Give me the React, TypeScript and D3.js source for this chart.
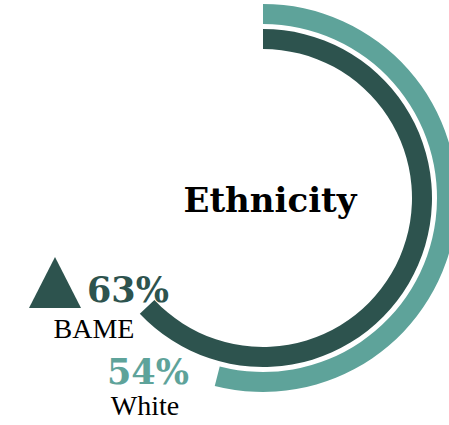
import React from "react";
import * as d3 from "d3";

const groups = ["BAME", "White"];
const values = [0.63, 0.54];
const valueLabels = ["63%", "54%"];
const title = "Ethnicity";

const W = 449;
const H = 425;
const cx = 263;
const cy = 198;
const DARK = "#2d534e";
const TEAL = "#5ea39a";

export default function App() {
  const angle = d3.scaleLinear().domain([0, 1]).range([0, 2 * Math.PI]);
  const rings = [
    { inner: 149, outer: 169, color: DARK },
    { inner: 174, outer: 194, color: TEAL },
  ];
  const arc = d3.arc<any>();
  return (
    <svg
      width={W}
      height={H}
      style={{ position: "absolute", left: 0, top: 0, display: "block" }}
    >
      <rect width={W} height={H} fill="#fff" />
      <g transform={`translate(${cx},${cy})`}>
        {values.map((v, i) => (
          <path
            key={groups[i]}
            d={
              arc({
                innerRadius: rings[i].inner,
                outerRadius: rings[i].outer,
                startAngle: 0,
                endAngle: angle(v),
              }) || ""
            }
            fill={rings[i].color}
          />
        ))}
      </g>
      <text
        x={270}
        y={212}
        textAnchor="middle"
        fontFamily="'DejaVu Serif', serif"
        fontWeight="bold"
        fontSize={34}
        fill="#000"
      >
        {title}
      </text>
      <path d="M29,308 L81,308 L55,257 Z" fill={DARK} />
      <text
        x={128}
        y={302}
        textAnchor="middle"
        fontFamily="'DejaVu Serif', serif"
        fontWeight="bold"
        fontSize={35}
        fill={DARK}
      >
        {valueLabels[0]}
      </text>
      <text
        x={94}
        y={338}
        textAnchor="middle"
        fontFamily="'Liberation Serif', serif"
        fontSize={28}
        fill="#000"
      >
        {groups[0]}
      </text>
      <text
        x={148}
        y={384}
        textAnchor="middle"
        fontFamily="'DejaVu Serif', serif"
        fontWeight="bold"
        fontSize={35}
        fill={TEAL}
      >
        {valueLabels[1]}
      </text>
      <text
        x={145}
        y={415}
        textAnchor="middle"
        fontFamily="'Liberation Serif', serif"
        fontSize={28}
        fill="#000"
      >
        {groups[1]}
      </text>
    </svg>
  );
}
